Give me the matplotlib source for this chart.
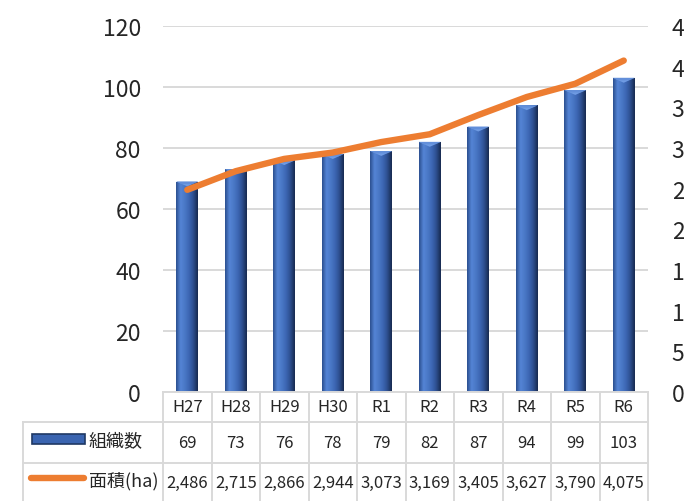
import matplotlib
matplotlib.use("Agg")
import matplotlib.pyplot as plt
import numpy as np
from matplotlib.colors import LinearSegmentedColormap
from matplotlib.lines import Line2D
from matplotlib.patches import Rectangle
from matplotlib.transforms import blended_transform_factory

# Data
years = ["H27", "H28", "H29", "H30", "R1", "R2", "R3", "R4", "R5", "R6"]
org_count = [69, 73, 76, 78, 79, 82, 87, 94, 99, 103]
area_ha = [2486, 2715, 2866, 2944, 3073, 3169, 3405, 3627, 3790, 4075]
row_labels = ["組織数", "面積(ha)"]

plt.rcParams["font.family"] = ["Noto Sans CJK JP", "DejaVu Sans"]

W, H = 684, 502
fig = plt.figure(figsize=(W / 100, H / 100), dpi=100)


def fx(px):
    return px / W


def fy(py):
    return 1 - py / H


ax_left, ax_right, ax_top, ax_bottom = 163, 648, 27, 393
ax = fig.add_axes([fx(ax_left), fy(ax_bottom), fx(ax_right - ax_left), (ax_bottom - ax_top) / H])
ax2 = ax.twinx()

x = np.arange(len(years))
bar_w = 0.45

# bevelled blue bars
bevel = LinearSegmentedColormap.from_list(
    "bevel", ["#2b4f8f", "#5585d6", "#4a78c6", "#3c66b3", "#2d4e8e", "#172a4f"])
grad = np.linspace(0, 1, 64).reshape(1, -1)
bars = ax.bar(x, org_count, width=bar_w, color="none", edgecolor="none", zorder=2)
for b in bars:
    x0, w, h = b.get_x(), b.get_width(), b.get_height()
    im = ax.imshow(grad, cmap=bevel, aspect="auto", extent=[x0, x0 + w, 0, h],
                   origin="lower", zorder=2, interpolation="bicubic")
    im.set_clip_path(b)
    # top facet
    ax.fill([x0, x0 + w, x0 + w * 0.5], [h, h, h - 1.6], color="#6f9be3", zorder=3, lw=0)
    ax.fill([x0, x0 + w, x0 + w * 0.75, x0 + w * 0.25], [h, h, h - 0.8, h - 0.8],
            color="#5b88d4", zorder=3, lw=0, alpha=0.6)

ax.set_xlim(-0.5, len(years) - 0.5)
ax.set_ylim(0, 120)
ax.set_yticks(range(0, 121, 20))
ax.grid(axis="y", color="#d9d9d9", lw=1.4, zorder=0)
ax.set_axisbelow(True)
ax.set_xticks([])
for s in ax.spines.values():
    s.set_visible(False)
for s in ax2.spines.values():
    s.set_visible(False)
ax.tick_params(axis="y", length=0, pad=16, labelsize=16.5, labelcolor="#262626")

# area line on secondary axis
ax2.plot(x, area_ha, color="#ed7d31", lw=4.6, solid_capstyle="round", zorder=4)
ax2.set_ylim(0, 4500)
ax2.set_yticks(range(0, 4501, 500))
ax2.tick_params(axis="y", length=0, pad=17, labelsize=16.5, labelcolor="#262626")
ax2.set_zorder(ax.get_zorder() + 1)
ax2.patch.set_visible(False)

# data table
grid_c = "#d9d9d9"
col_w = (ax_right - ax_left) / len(years)
y_hdr, y_r1, y_r2, y_end = 393, 423, 464, 510
lab_left = 23

fig.add_artist(Line2D([fx(ax_left), fx(ax_right)], [fy(y_hdr)] * 2, color=grid_c, lw=1.4))
for yy in (y_r1, y_r2):
    fig.add_artist(Line2D([fx(lab_left), fx(ax_right)], [fy(yy)] * 2, color=grid_c, lw=1.4))
fig.add_artist(Line2D([fx(lab_left)] * 2, [fy(y_r1), fy(y_end)], color=grid_c, lw=1.4))
for i in range(len(years) + 1):
    xx = ax_left + i * col_w
    fig.add_artist(Line2D([fx(xx)] * 2, [fy(y_hdr), fy(y_end)], color=grid_c, lw=1.4))

trans = blended_transform_factory(ax.transData, fig.transFigure)
txt = dict(ha="center", va="center", fontsize=12, color="#262626", transform=trans)
for i, yr in enumerate(years):
    fig.text(x[i], fy(408), yr, **txt)
    fig.text(x[i], fy(444), str(org_count[i]), **txt)
    fig.text(x[i], fy(483), f"{area_ha[i]:,}", **txt)

# row labels with legend keys
fig.add_artist(Rectangle((fx(32), fy(445)), fx(53), 10 / H, facecolor="#3a64b0",
                         edgecolor="#1f3864", lw=1.2))
fig.add_artist(Line2D([fx(31), fx(84)], [fy(479)] * 2, color="#ed7d31", lw=4.6,
                      solid_capstyle="round"))
fig.text(fx(89), fy(442), row_labels[0], ha="left", va="center", fontsize=13, color="#262626")
fig.text(fx(89), fy(481), row_labels[1], ha="left", va="center", fontsize=13, color="#262626")

fig.savefig("out.png", dpi=100)
